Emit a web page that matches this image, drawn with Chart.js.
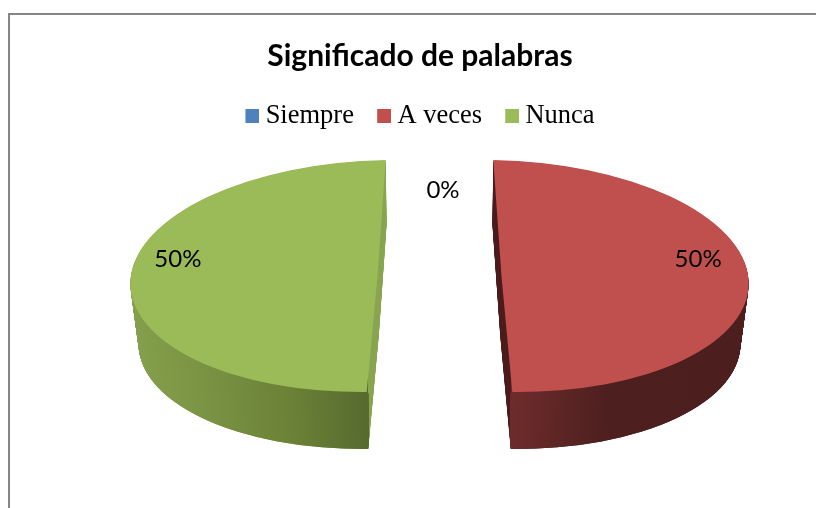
<!DOCTYPE html>
<html>
<head>
<meta charset="utf-8">
<style>html,body{margin:0;padding:0;background:#fff}canvas{display:block}</style>
<script src="https://cdn.jsdelivr.net/npm/chart.js@4"></script>
</head>
<body>
<canvas id="c" width="816" height="508"></canvas>
<script>
const categories = ['Siempre', 'A veces', 'Nunca'];
const values = [0, 50, 50];
const sliceColors = ['#4F81BD', '#C0504D', '#9BBB59'];
const stripColors = ['#385D8A', '#4E1F1F', '#8AA652'];
const rimStops = [
  [],
  [[0, '#6E2C2C'], [0.4, '#4E1F1F'], [1, '#4C1E1E']],
  [[0, '#566A2E'], [0.3, '#6A8036'], [0.7, '#7A9444'], [1, '#85A04C']]
];
const labelRadial = [0.74, 0.8, 0.8];
const labelShift = [[3.5, 0], [-1, -19], [-2, -19]];

// view projection of the pie: top face and bottom face of the exploded slab
const view = {
  midX: 439.5,
  top: { y: 276, sep: 62, ux: 247, uy: 3, vx: 9.5, vy: 116 },
  bottom: { y: 336.5, sep: 60.8, ux: 240, uy: 3, vx: 9.2, vy: 112.5 },
  layers: 90
};
const OFFSET = 20;

function lerpFace(t) {
  const r = {}, a = view.top, b = view.bottom;
  for (const k in a) r[k] = a[k] + (b[k] - a[k]) * t;
  return r;
}
function drawnRadius(el) {
  return el.outerRadius + OFFSET / 4;
}
function matrix(el, s, face) {
  const R = drawnRadius(el);
  const a = face.ux / R, b = s * face.uy / R, c = s * face.vx / R, d = face.vy / R;
  const ox = el.x + s * OFFSET / 4, oy = el.y;
  const cx = view.midX + s * face.sep, cy = face.y;
  return [a, b, c, d, cx - a * ox - c * oy, cy - b * ox - d * oy];
}
function drawWith(el, ctx, m, fill) {
  ctx.save();
  ctx.transform(m[0], m[1], m[2], m[3], m[4], m[5]);
  if (fill) {
    const proxy = Object.create(el, {
      options: { value: Object.assign({}, el.options, { backgroundColor: fill, borderWidth: 0 }), writable: true }
    });
    el.draw.call(proxy, ctx);
  } else {
    el.draw(ctx);
  }
  ctx.restore();
}
function stack(el, ctx, s, fill) {
  for (let i = view.layers; i > 0; i--) {
    drawWith(el, ctx, matrix(el, s, lerpFace(i / view.layers)), fill);
  }
}
function endPoint(face, s) {
  return [view.midX + s * face.sep + s * face.vx, face.y + face.vy];
}

const pie3d = {
  id: 'pie3d',
  beforeDraw(chart) {
    const ctx = chart.ctx;
    ctx.save();
    ctx.strokeStyle = '#868686';
    ctx.lineWidth = 2;
    ctx.beginPath();
    ctx.moveTo(9, 510);
    ctx.lineTo(9, 14);
    ctx.lineTo(818, 14);
    ctx.stroke();
    ctx.restore();
  },
  beforeDatasetsDraw(chart) {
    const ctx = chart.ctx;
    const arcs = chart.getDatasetMeta(0).data;
    const total = values.reduce((p, v) => p + v, 0);
    arcs.forEach((el, i) => {
      if (!(values[i] > 0)) return;
      const mid = (el.startAngle + el.endAngle) / 2;
      const s = Math.cos(mid) >= 0 ? 1 : -1;
      // cut face
      stack(el, ctx, s, stripColors[i]);
      // curved rim, only on the outer side of the slab's vertical edge
      const grad = ctx.createLinearGradient(el.x, 0, el.x + s * drawnRadius(el), 0);
      rimStops[i].forEach(st => grad.addColorStop(st[0], st[1]));
      const p = endPoint(view.top, s), q = endPoint(view.bottom, s);
      const dx = q[0] - p[0], dy = q[1] - p[1];
      ctx.save();
      ctx.beginPath();
      ctx.moveTo(p[0] - dx * 9, p[1] - dy * 9);
      ctx.lineTo(q[0] + dx * 9, q[1] + dy * 9);
      ctx.lineTo(q[0] + dx * 9 + s * 1000, q[1] + dy * 9);
      ctx.lineTo(p[0] - dx * 9 + s * 1000, p[1] - dy * 9);
      ctx.closePath();
      ctx.clip();
      stack(el, ctx, s, grad);
      ctx.restore();
      // top face
      drawWith(el, ctx, matrix(el, s, view.top));
    });
    // value labels
    ctx.save();
    ctx.font = '24px Lato';
    ctx.fillStyle = '#000';
    ctx.textAlign = 'center';
    ctx.textBaseline = 'middle';
    arcs.forEach((el, i) => {
      const mid = (el.startAngle + el.endAngle) / 2;
      const s = values[i] > 0 ? (Math.cos(mid) >= 0 ? 1 : -1) : 0;
      const f = view.top;
      const x = view.midX + s * f.sep + labelRadial[i] * (f.ux * Math.cos(mid) + f.vx * Math.sin(mid) * s) + labelShift[i][0];
      const y = f.y + labelRadial[i] * (f.uy * Math.cos(mid) * s + f.vy * Math.sin(mid)) + labelShift[i][1];
      ctx.fillText(Math.round(values[i] / total * 100) + '%', x, y);
    });
    ctx.restore();
    return false;
  }
};

function swatch(color) {
  const cv = document.createElement('canvas');
  cv.width = 21; cv.height = 14;
  const g = cv.getContext('2d');
  g.fillStyle = color;
  g.fillRect(7, 0, 14, 14);
  return cv;
}

new Chart(document.getElementById('c'), {
  type: 'pie',
  data: {
    labels: categories,
    datasets: [{ data: values, backgroundColor: sliceColors, borderWidth: 0, offset: OFFSET }]
  },
  plugins: [pie3d],
  options: {
    responsive: false,
    animation: false,
    layout: { padding: { left: 24, top: 30, bottom: 60 } },
    plugins: {
      tooltip: { enabled: false },
      title: {
        display: true,
        text: 'Significado de palabras',
        color: '#000',
        font: { family: 'Lato', size: 30, weight: 'bold' },
        padding: { top: 8, bottom: 6 }
      },
      legend: {
        position: 'top',
        labels: {
          color: '#000',
          font: { family: '"Liberation Serif"', size: 26.5 },
          usePointStyle: true,
          pointStyleWidth: 7,
          boxHeight: 14,
          padding: 23.2,
          generateLabels(chart) {
            return categories.map((t, i) => ({
              text: t,
              fontColor: '#000',
              fillStyle: sliceColors[i],
              strokeStyle: sliceColors[i],
              lineWidth: 0,
              hidden: false,
              index: i,
              pointStyle: swatch(sliceColors[i])
            }));
          }
        }
      }
    }
  }
});
</script>
</body>
</html>
